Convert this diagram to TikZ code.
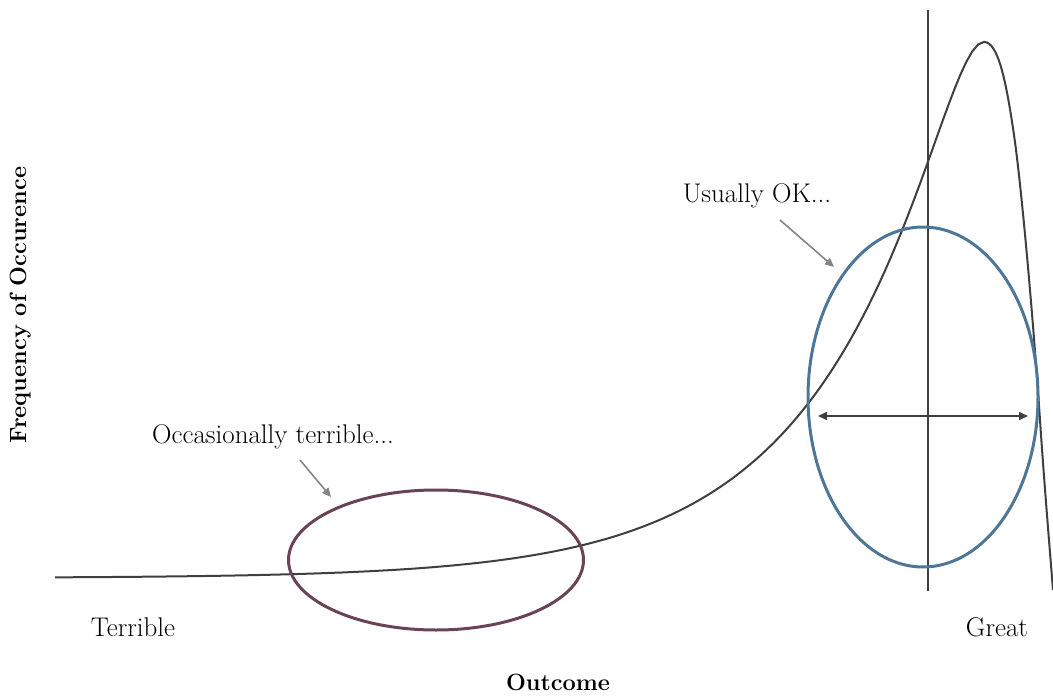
\documentclass[tikz,border=0pt]{standalone}
\usetikzlibrary{arrows.meta,shapes.geometric}
\definecolor{curvecol}{HTML}{3F3F3F}
\definecolor{mauve}{HTML}{6A4356}
\definecolor{steel}{HTML}{4E7696}
\definecolor{pointer}{HTML}{858585}
\tikzset{
  lbl/.style={font=\fontsize{27}{30}\selectfont, inner sep=0pt},
  axislbl/.style={font=\fontsize{23.5}{26}\selectfont\bfseries, inner sep=0pt},
  pointerarrow/.style={draw=pointer, line width=1.6pt, -{Triangle[length=9pt,width=8pt]}},
  ringA/.style={draw=mauve, line width=3pt},
  ringB/.style={draw=steel, line width=3pt},
}
\begin{document}
\begin{tikzpicture}[x=1pt,y=-1pt]
\useasboundingbox (0,0) rectangle (1053,696);
\begin{scope}
\clip (0,0) rectangle (1053,696);
% curve: left side (skewed density), then steep right flank
\draw[curvecol, line width=2pt, line join=round]
  plot[domain=55:984, samples=160, variable=\t]
   (\t, {578 - 536*exp(0.0074074*(\t-984) - (exp(0.0413*(\t-984))-1)*0.17936)})
  .. controls (998,42) and (1006,80) .. (1014,135)
  .. controls (1022,190) and (1034,330) .. (1040,420)
  .. controls (1044,480) and (1049,540) .. (1053,590);
\end{scope}
% vertical line
\coordinate (vtop) at (928,10);
\coordinate (vbot) at (928,591);
\draw[curvecol, line width=1.6pt] (vtop) -- (vbot);
% ellipses
\node[ringA, ellipse, minimum width=295pt, minimum height=140pt, inner sep=0pt] (terr) at (436,560) {};
\node[ringB, ellipse, minimum width=230pt, minimum height=340pt, inner sep=0pt] (ok) at (923,397) {};
% double arrow
\coordinate (hl) at (818,416);
\coordinate (hr) at (1028,416);
\draw[curvecol, line width=1.6pt, {Triangle[length=9pt,width=8pt]}-{Triangle[length=9pt,width=8pt]}] (hl) -- (hr);
% labels
\node[lbl] (okl) at (757,196) {Usually OK...};
\node[lbl] (occ) at (273,437) {Occasionally terrible...};
\node[lbl] (terrible) at (133,627) {Terrible};
\node[lbl] (great) at (997,627) {Great};
\node[axislbl] (outc) at (558,682) {Outcome};
\node[axislbl, rotate=90] (freq) at (21,305) {Frequency of Occurence};
% pointers
\coordinate (p1s) at (780,220);
\coordinate (p1e) at (834,267);
\draw[pointerarrow] (p1s) -- (p1e);
\coordinate (p2s) at (300,460);
\coordinate (p2e) at (331,497);
\draw[pointerarrow] (p2s) -- (p2e);
\end{tikzpicture}
\end{document}
